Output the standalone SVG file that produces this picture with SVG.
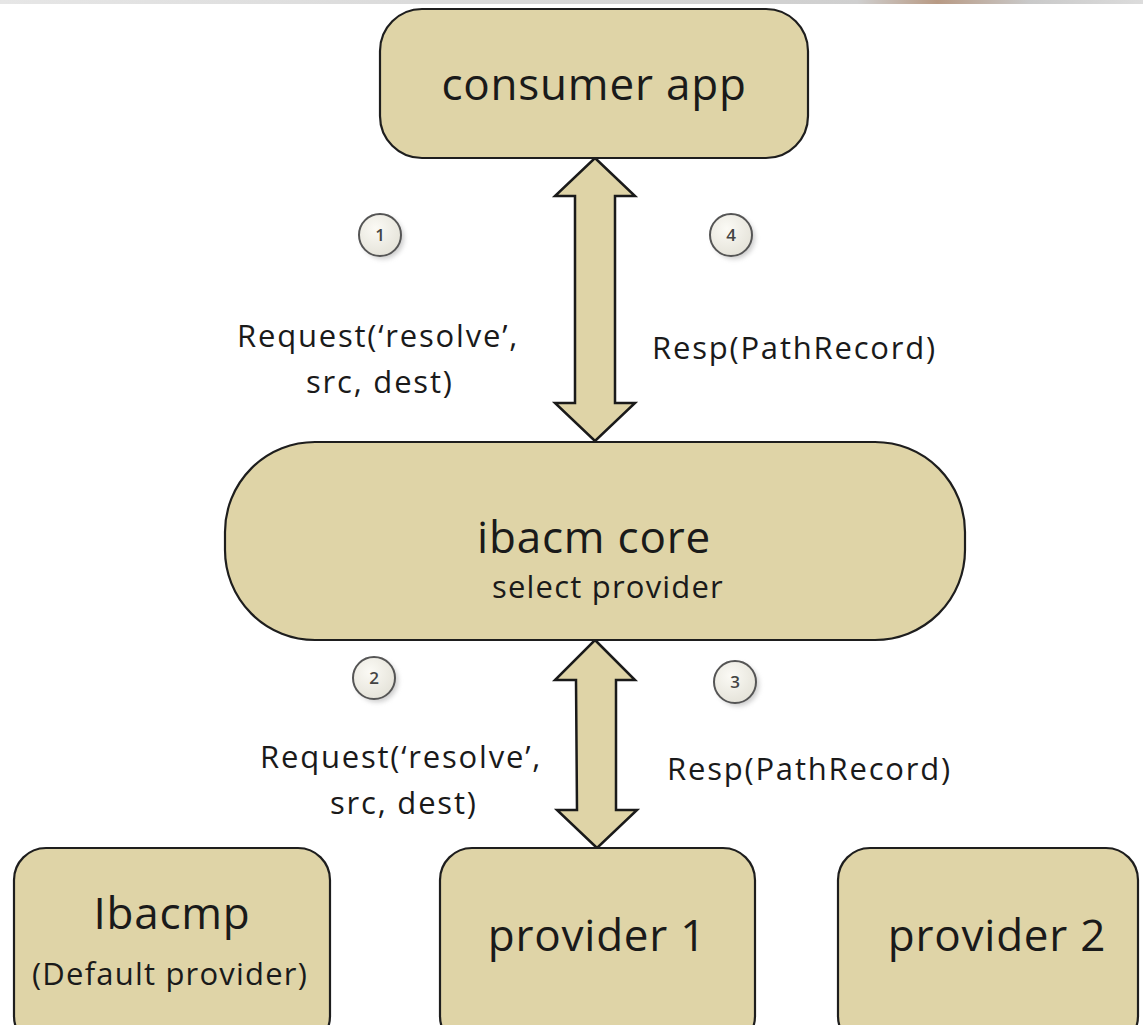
<svg xmlns="http://www.w3.org/2000/svg" width="1143" height="1025" viewBox="0 0 1143 1025">
  <defs>
    <style>
      .box { fill: #dfd4a7; stroke: #1e1e1e; stroke-width: 2.2; }
      .arrow { fill: #dfd4a7; stroke: #1a1a1a; stroke-width: 2.5; stroke-linejoin: miter; }
      .big { font-family: "Open Sans", "Liberation Sans", sans-serif; font-size: 44px; letter-spacing: 0.8px; fill: #1a1a1a; text-anchor: middle; }
      .mid { font-family: "Open Sans", "Liberation Sans", sans-serif; font-size: 31px; letter-spacing: 1.2px; fill: #1a1a1a; text-anchor: middle; }
      .lbl { font-family: "Open Sans", "Liberation Sans", sans-serif; font-size: 31px; letter-spacing: 1.8px; fill: #1a1a1a; }
      .step { fill: url(#stepFill); stroke: #555; stroke-width: 2; }
      .stepnum { font-family: "Open Sans", "Liberation Sans", sans-serif; font-size: 17px; font-weight: 600; fill: #444; text-anchor: middle; }
    </style>
    <radialGradient id="stepFill" cx="0.4" cy="0.35" r="0.7">
      <stop offset="0" stop-color="#fbfaf5"/>
      <stop offset="1" stop-color="#e4e2d8"/>
    </radialGradient>
    <filter id="soft" x="-50%" y="-50%" width="200%" height="200%">
      <feGaussianBlur stdDeviation="2.5"/>
    </filter>
    <linearGradient id="topStrip" x1="0" y1="0" x2="1" y2="0">
      <stop offset="0" stop-color="#e6e6e6"/>
      <stop offset="0.75" stop-color="#cfcfcf"/>
      <stop offset="0.82" stop-color="#b89a84"/>
      <stop offset="0.9" stop-color="#c9c9c9"/>
      <stop offset="1" stop-color="#dcdcdc"/>
    </linearGradient>
  </defs>

  <rect width="1143" height="1025" fill="#ffffff"/>
  <!-- thin strip along the top edge -->
  <rect x="0" y="0" width="1143" height="4" fill="url(#topStrip)"/>

  <!-- connectors: double-headed block arrows -->
  <g id="connectors">
    <path class="arrow" d="M595,158 L635,196 L615,196 L615,403 L635,403 L595,441 L555,403 L575,403 L575,196 L555,196 Z"/>
    <path class="arrow" d="M595,640 L635,680 L616,680 L616,810 L637,810 L597,848 L557,810 L577,810 L576,680 L555,680 Z"/>
  </g>

  <g id="consumer-app">
    <rect class="box" x="380" y="9" width="428" height="149" rx="42" ry="42"/>
    <text class="big" x="594" y="100">consumer app</text>
  </g>

  <g id="ibacm-core">
    <rect class="box" x="225" y="442" width="740" height="198" rx="90" ry="90"/>
    <text class="big" x="594" y="553">ibacm core</text>
    <text class="mid" x="608" y="598">select provider</text>
  </g>

  <g id="ibacmp">
    <rect class="box" x="14" y="848" width="316" height="200" rx="32" ry="32"/>
    <text class="big" x="172" y="929">Ibacmp</text>
    <text class="mid" x="170" y="985">(Default provider)</text>
  </g>

  <g id="provider-1">
    <rect class="box" x="440" y="848" width="315" height="200" rx="32" ry="32"/>
    <text class="big" x="597" y="951">provider 1</text>
  </g>

  <g id="provider-2">
    <rect class="box" x="838" y="848" width="300" height="200" rx="32" ry="32"/>
    <text class="big" x="997" y="951">provider 2</text>
  </g>

  <!-- step markers -->
  <g id="step-1">
    <circle cx="383" cy="238" r="21" fill="#999" opacity="0.5" filter="url(#soft)"/>
    <circle class="step" cx="380" cy="235" r="21"/>
    <text class="stepnum" x="380" y="241">1</text>
  </g>
  <g id="step-4">
    <circle cx="734" cy="238" r="21" fill="#999" opacity="0.5" filter="url(#soft)"/>
    <circle class="step" cx="731" cy="235" r="21"/>
    <text class="stepnum" x="731" y="241">4</text>
  </g>
  <g id="step-2">
    <circle cx="377" cy="681" r="21" fill="#999" opacity="0.5" filter="url(#soft)"/>
    <circle class="step" cx="374" cy="678" r="21"/>
    <text class="stepnum" x="374" y="684">2</text>
  </g>
  <g id="step-3">
    <circle cx="738" cy="685" r="21" fill="#999" opacity="0.5" filter="url(#soft)"/>
    <circle class="step" cx="735" cy="682" r="21"/>
    <text class="stepnum" x="735" y="688">3</text>
  </g>

  <!-- message labels -->
  <g id="labels">
    <text class="lbl" x="237" y="347">Request(‘resolve’,</text>
    <text class="lbl" x="306" y="393">src, dest)</text>
    <text class="lbl" x="652" y="359">Resp(PathRecord)</text>
    <text class="lbl" x="260" y="768">Request(‘resolve’,</text>
    <text class="lbl" x="330" y="814">src, dest)</text>
    <text class="lbl" x="667" y="780">Resp(PathRecord)</text>
  </g>
</svg>
